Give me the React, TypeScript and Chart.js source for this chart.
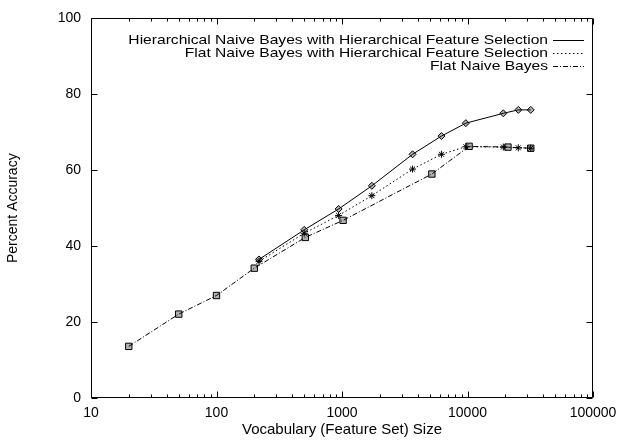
import React, { useEffect, useRef } from 'react';
import { Chart, registerables } from 'chart.js';

Chart.register(...registerables);

// ---- data ----
const seriesLabels = [
  'Hierarchical Naive Bayes with Hierarchical Feature Selection',
  'Flat Naive Bayes with Hierarchical Feature Selection',
  'Flat Naive Bayes',
];

const hnbX = [218, 500, 940, 1730, 3650, 6200, 9700, 19300, 25400, 31900];
const hnbY = [36.5, 44.3, 49.8, 55.9, 64.2, 69.0, 72.4, 75.0, 75.9, 75.9];

const fhfsX = [218, 500, 940, 1730, 3650, 6200, 9700, 19300, 25400, 31900];
const fhfsY = [36.0, 43.4, 48.1, 53.3, 60.3, 64.2, 66.2, 66.1, 65.9, 65.8];

const flatX = [20, 50, 100, 200, 510, 1020, 5200, 10300, 21000, 31900];
const flatY = [13.6, 22.1, 27.0, 34.2, 42.3, 46.8, 59.0, 66.3, 66.1, 65.8];

const xTickValues = [10, 100, 1000, 10000, 100000];
const yTickValues = [0, 20, 40, 60, 80, 100];

const xTitle = 'Vocabulary (Feature Set) Size';
const yTitle = 'Percent Accuracy';

const FONT = "'Liberation Sans', Arial, Helvetica, sans-serif";

const toPoints = (xs: number[], ys: number[]) => xs.map((x, i) => ({ x, y: ys[i] }));

// frame with inward ticks (gnuplot style)
const framePlugin = {
  id: 'gpFrame',
  afterDatasetsDraw(chart: any) {
    const { ctx, chartArea, scales } = chart;
    const L = Math.round(chartArea.left) + 0.5;
    const R = Math.round(chartArea.right) - 0.5;
    const T = Math.round(chartArea.top) + 0.5;
    const B = Math.round(chartArea.bottom) - 0.5;
    ctx.save();
    ctx.strokeStyle = '#000';
    ctx.lineWidth = 1;
    ctx.setLineDash([]);
    ctx.beginPath();
    ctx.rect(L, T, R - L, B - T);
    ctx.stroke();
    const major = 6;
    const minor = 3;
    ctx.beginPath();
    scales.y.ticks.forEach((t: any) => {
      const py = Math.round(scales.y.getPixelForValue(t.value)) + 0.5;
      ctx.moveTo(L, py); ctx.lineTo(L + major, py);
      ctx.moveTo(R, py); ctx.lineTo(R - major, py);
    });
    for (let i = 0; i < xTickValues.length; i++) {
      const d = xTickValues[i];
      const px = Math.round(scales.x.getPixelForValue(d)) + 0.5;
      ctx.moveTo(px, B); ctx.lineTo(px, B - major);
      ctx.moveTo(px, T); ctx.lineTo(px, T + major);
      if (i < xTickValues.length - 1) {
        for (let k = 2; k <= 9; k++) {
          const mx = Math.round(scales.x.getPixelForValue(d * k)) + 0.5;
          ctx.moveTo(mx, B); ctx.lineTo(mx, B - minor);
          ctx.moveTo(mx, T); ctx.lineTo(mx, T + minor);
        }
      }
    }
    ctx.stroke();
    ctx.restore();
  },
};

// gnuplot-like key: right-aligned text with a line sample to its right
const keyPlugin = {
  id: 'gpKey',
  afterDraw(chart: any) {
    const { ctx, chartArea } = chart;
    const textRight = chartArea.right - 45;
    const lineL = chartArea.right - 40;
    const lineR = chartArea.right - 9;
    ctx.save();
    ctx.font = `13px ${FONT}`;
    ctx.fillStyle = '#000';
    ctx.strokeStyle = '#000';
    ctx.lineWidth = 1;
    ctx.textAlign = 'right';
    ctx.textBaseline = 'middle';
    chart.data.datasets.forEach((ds: any, i: number) => {
      const y = Math.round(chartArea.top + 22 + i * 12.8) + 0.5;
      ctx.save();
      ctx.translate(textRight, y);
      ctx.scale(1.2, 1);
      ctx.fillText(ds.label, 0, 0);
      ctx.restore();
      ctx.beginPath();
      ctx.setLineDash(ds.borderDash || []);
      ctx.moveTo(lineL, y);
      ctx.lineTo(lineR, y);
      ctx.stroke();
    });
    ctx.restore();
  },
};

export default function App() {
  const canvasRef = useRef<HTMLCanvasElement | null>(null);

  useEffect(() => {
    const canvas = canvasRef.current;
    if (!canvas) return;
    const common = {
      borderColor: '#000',
      borderWidth: 1,
      backgroundColor: 'rgba(0,0,0,0)',
      pointBorderColor: '#000',
      pointBackgroundColor: 'rgba(0,0,0,0.3)',
      pointBorderWidth: 1,
      tension: 0,
      fill: false,
    };
    const chart = new Chart(canvas, {
      type: 'line',
      data: {
        datasets: [
          {
            ...common,
            label: seriesLabels[0],
            data: toPoints(hnbX, hnbY),
            borderDash: [],
            pointStyle: 'rectRot',
            pointRadius: 3.5,
            order: 2,
          },
          {
            ...common,
            label: seriesLabels[1],
            data: toPoints(fhfsX, fhfsY),
            borderDash: [1.5, 2.5],
            pointStyle: 'star',
            pointRadius: 3.5,
            order: 1,
          },
          {
            ...common,
            label: seriesLabels[2],
            data: toPoints(flatX, flatY),
            borderDash: [5, 2, 1, 2],
            pointStyle: 'rect',
            pointRadius: 4.5,
            order: 0,
          },
        ] as any,
      },
      options: {
        animation: false,
        responsive: false,
        devicePixelRatio: 1,
        layout: { padding: { left: 0, top: 9, right: 31, bottom: 0 } },
        plugins: {
          legend: { display: false },
          tooltip: { enabled: false },
        },
        scales: {
          x: {
            type: 'logarithmic',
            min: 10,
            max: 100000,
            grid: { display: false, drawTicks: false, tickLength: 0 },
            border: { display: false },
            afterBuildTicks: (scale: any) => {
              scale.ticks = xTickValues.map((v) => ({ value: v }));
            },
            afterFit: (scale: any) => {
              scale.height = 42;
            },
            ticks: {
              autoSkip: false,
              maxRotation: 0,
              padding: 7,
              color: '#000',
              font: { family: FONT, size: 14 },
              callback: (v: any) => String(v),
            },
            title: {
              display: true,
              text: xTitle,
              color: '#000',
              font: { family: FONT, size: 15 },
              padding: { top: 0, bottom: 1 },
            },
          },
          y: {
            type: 'linear',
            min: 0,
            max: 100,
            grid: { display: false, drawTicks: false, tickLength: 0 },
            border: { display: false },
            afterBuildTicks: (scale: any) => {
              scale.ticks = yTickValues.map((v) => ({ value: v }));
            },
            afterFit: (scale: any) => {
              scale.width = 91;
            },
            ticks: {
              padding: 10,
              color: '#000',
              font: { family: FONT, size: 14 },
              callback: (v: any) => String(v),
            },
            title: {
              display: true,
              text: yTitle,
              color: '#000',
              font: { family: FONT, size: 14 },
              padding: { top: 5, bottom: 0 },
            },
          },
        },
      } as any,
      plugins: [framePlugin, keyPlugin],
    });
    return () => chart.destroy();
  }, []);

  return (
    <div style={{ position: 'absolute', left: 0, top: 0, width: 624, height: 440, background: '#fff' }}>
      <canvas ref={canvasRef} width={624} height={440} style={{ display: 'block', width: 624, height: 440 }} />
    </div>
  );
}
